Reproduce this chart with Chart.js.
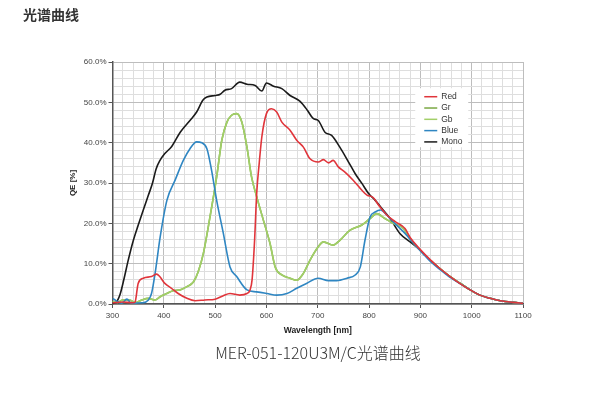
<!DOCTYPE html>
<html>
<head>
<meta charset="utf-8">
<script src="https://cdn.jsdelivr.net/npm/chart.js@4.4.1/dist/chart.umd.min.js"></script>
<style>
  body { margin: 0; background: #fff; }
  #wrap { position: relative; width: 590px; height: 397px; }
  #chart { position: absolute; left: 0; top: 0; }
  .title { position: absolute; left: 23px; top: 4px; font: bold 14px "Noto Sans CJK SC", sans-serif; color: #333; }
  .caption { position: absolute; left: 0; width: 636px; top: 340px; text-align: center; font: 300 16px "Noto Sans CJK SC", sans-serif; color: #333; }
</style>
</head>
<body>
<div id="wrap">
  <canvas id="chart" width="590" height="397"></canvas>
  <div class="title">光谱曲线</div>
  <div class="caption">MER-051-120U3M/C光谱曲线</div>
</div>
<script>
// curve points: wavelength (nm) and QE (%)
const monoNm = [300, 308, 315, 322, 330, 340, 350, 360, 370, 378, 385, 392, 402, 415, 432, 451, 464, 476, 484, 500, 510, 519, 532, 548, 562, 578, 591, 600, 614, 630, 646, 665, 680, 691, 701, 714, 727, 743, 760, 773, 786, 799, 812, 825, 841, 860, 880, 899, 919, 938, 958, 978, 997, 1016, 1036, 1056, 1081, 1100];
const monoQE = [0.2, 0.6, 2.5, 6, 10.5, 15.5, 19.5, 23.3, 27, 30, 33.5, 35.5, 37.3, 39, 42.6, 45.5, 47.6, 50.5, 51.3, 51.7, 52, 53, 53.4, 55, 54.5, 54.2, 52.8, 54.8, 54, 53.4, 51.7, 50.3, 48, 46, 45.5, 42.6, 41.8, 38.9, 35.2, 32.3, 29.9, 27.4, 25.7, 23.7, 21.2, 17.5, 15.4, 13.4, 10.9, 8.8, 6.8, 5.1, 3.5, 2.2, 1.4, 0.8, 0.4, 0.2];

const redNm = [300, 320, 340, 344, 350, 360, 376, 386, 392, 402, 415, 428, 445, 461, 480, 500, 515, 529, 548, 562, 568, 572, 577, 581, 586, 591, 600, 610, 620, 630, 646, 659, 672, 685, 701, 711, 721, 730, 740, 753, 769, 786, 796, 808, 821, 835, 851, 870, 880, 899, 919, 938, 958, 978, 997, 1016, 1036, 1056, 1081, 1100];
const redQE = [0.3, 0.5, 0.3, 0.5, 5.1, 6.4, 6.8, 7.4, 6.8, 5.1, 3.9, 2.6, 1.4, 0.8, 1.0, 1.2, 2.0, 2.6, 2.2, 2.6, 3.5, 6, 16, 27.4, 35, 41.4, 47.2, 48.4, 47.6, 45.1, 43.1, 40.6, 38.9, 36, 35.2, 35.8, 35, 35.6, 34, 32.7, 30.7, 28.2, 27, 26.4, 24.1, 22, 20.4, 18.7, 16.5, 13.6, 11, 8.8, 6.8, 5.0, 3.5, 2.2, 1.4, 0.8, 0.4, 0.2];

const grNm = [300, 310, 320, 334, 344, 357, 370, 383, 393, 406, 418, 432, 445, 458, 467, 477, 490, 503, 513, 523, 532, 542, 552, 562, 571, 581, 594, 607, 617, 630, 646, 659, 672, 685, 701, 711, 730, 743, 763, 786, 802, 815, 831, 847, 867, 880, 899, 919, 938, 958, 978, 997, 1016, 1036, 1056, 1081, 1100];
const grQE = [0.6, 0.4, 1.0, 1.0, 0.3, 1.0, 1.4, 1.0, 1.8, 2.6, 3.3, 3.5, 4.3, 5.5, 8, 12.5, 21.6, 31.5, 40.6, 45.1, 46.8, 47.2, 45.1, 38.9, 31.5, 26.6, 20.8, 15, 9.2, 7.2, 6.4, 5.9, 7.6, 10.9, 14.2, 15.4, 14.6, 15.8, 18.3, 19.6, 21.2, 22.4, 21.2, 20, 18.7, 16.2, 13.4, 10.9, 8.8, 6.8, 5.1, 3.5, 2.2, 1.4, 0.8, 0.4, 0.2];
const gbNm = grNm;
const gbQE = [0.6, 0.4, 1.0, 1.0, 0.3, 1.0, 1.4, 1.0, 1.8, 2.6, 3.3, 3.5, 4.3, 5.5, 8, 12.5, 21.6, 31.5, 40.6, 45.1, 46.8, 47.2, 45.1, 38.9, 31.5, 26.6, 20.8, 15, 9.2, 7.2, 6.4, 5.9, 7.6, 10.9, 14.2, 15.4, 14.6, 15.8, 18.3, 19.6, 21.2, 22.4, 21.2, 20, 18.7, 16.2, 13.4, 10.9, 8.8, 6.8, 5.1, 3.5, 2.2, 1.4, 0.8, 0.4, 0.2];

const blueNm = [300, 305, 318, 328, 337, 357, 370, 376, 383, 393, 406, 422, 438, 451, 464, 474, 484, 493, 503, 516, 529, 542, 562, 581, 601, 620, 640, 659, 678, 701, 721, 737, 757, 773, 783, 792, 802, 812, 822, 835, 850, 870, 890, 905, 919, 938, 958, 978, 997, 1016, 1036, 1056, 1081, 1100];
const blueQE = [1.4, 1.0, 0.2, 1.2, 0.2, 0.3, 1.0, 2.6, 7.6, 16.7, 25.7, 30.7, 35.6, 38.5, 40.2, 40, 38.5, 33.2, 25.7, 17.5, 9.2, 6.8, 3.5, 3, 2.6, 2.2, 2.6, 3.9, 5.1, 6.4, 5.8, 5.8, 6.4, 7.2, 9.2, 15.8, 21.6, 22.8, 23.3, 22, 20, 17.5, 14.6, 12.5, 10.6, 8.6, 6.6, 5.0, 3.5, 2.2, 1.4, 0.8, 0.4, 0.2];

const seriesNames = ['Red', 'Gr', 'Gb', 'Blue', 'Mono'];
const seriesColors = ['#e0353b', '#7aa843', '#a2cf68', '#2f86c2', '#1b1b1b'];
const xTicks = [300, 400, 500, 600, 700, 800, 900, 1000, 1100];
const yTicks = [0, 10, 20, 30, 40, 50, 60];

const pts = (nm, qe) => nm.map((x, i) => ({ x: x, y: qe[i] }));
const allData = [pts(redNm, redQE), pts(grNm, grQE), pts(gbNm, gbQE), pts(blueNm, blueQE), pts(monoNm, monoQE)];
// lower order is painted on top: Gb over Gr, black underneath
const drawOrder = [0, 2, 1, 0, 3];

const labelFont = { family: '"Liberation Sans", Arial, sans-serif', size: 8 };

// legend drawn inside the plot, like the picture
const boxLegend = {
  id: 'boxLegend',
  afterDatasetsDraw(chart) {
    const ctx = chart.ctx;
    const x = chart.scales.x, y = chart.scales.y;
    const left = x.getPixelForValue(890), top = y.getPixelForValue(53.5);
    ctx.save();
    ctx.fillStyle = '#fff';
    ctx.fillRect(left, top, 53, 59);
    ctx.font = '8.5px "Liberation Sans", Arial, sans-serif';
    ctx.textBaseline = 'middle';
    seriesNames.forEach((name, i) => {
      const yy = top + 8.5 + i * 11.3;
      ctx.strokeStyle = seriesColors[i];
      ctx.lineWidth = 1.5;
      ctx.beginPath();
      ctx.moveTo(left + 9, yy);
      ctx.lineTo(left + 22, yy);
      ctx.stroke();
      ctx.fillStyle = '#333';
      ctx.fillText(name, left + 26, yy);
    });
    ctx.restore();
  }
};

new Chart(document.getElementById('chart'), {
  type: 'line',
  data: {
    datasets: seriesNames.map((name, i) => ({
      label: name,
      data: allData[i],
      order: drawOrder[i],
      borderColor: seriesColors[i],
      borderWidth: 1.6,
      pointRadius: 0,
      fill: false,
      cubicInterpolationMode: 'monotone'
    }))
  },
  options: {
    responsive: false,
    animation: false,
    layout: { padding: { left: 68, top: 62, right: 67, bottom: 61 } },
    plugins: { legend: { display: false }, tooltip: { enabled: false } },
    scales: {
      x: {
        type: 'linear',
        min: 300, max: 1100,
        afterFit(s) { s.height = 32; },
        ticks: {
          stepSize: 20, autoSkip: false, maxRotation: 0, padding: 3,
          color: '#444', font: labelFont,
          callback: v => xTicks.includes(v) ? v : ''
        },
        grid: {
          color: c => (c.tick && c.tick.value % 100 === 0) ? '#bdbdbd' : '#dedede',
          tickColor: c => (c.tick && c.tick.value % 100 === 0) ? '#555' : 'transparent',
          tickLength: 4
        },
        border: { color: '#555', width: 1.5 },
        title: { display: true, text: 'Wavelength [nm]', color: '#222', padding: { top: 1, bottom: 0 },
          font: { family: '"Liberation Sans", Arial, sans-serif', size: 8.5, weight: 'bold' } }
      },
      y: {
        min: 0, max: 60,
        afterFit(s) { s.width = 44.5; },
        ticks: {
          stepSize: 2, autoSkip: false, padding: 2,
          color: '#444', font: labelFont,
          callback: v => yTicks.includes(v) ? v.toFixed(1) + '%' : ''
        },
        grid: {
          color: c => (c.tick && c.tick.value % 10 === 0) ? '#bdbdbd' : '#dedede',
          tickColor: c => (c.tick && c.tick.value % 10 === 0) ? '#555' : 'transparent',
          tickLength: 4
        },
        border: { color: '#555', width: 1.5 },
        title: { display: true, text: 'QE [%]', color: '#222', padding: { top: 0, bottom: 0 },
          font: { family: '"Liberation Sans", Arial, sans-serif', size: 8, weight: 'bold' } }
      }
    }
  },
  plugins: [boxLegend]
});
</script>
</body>
</html>
